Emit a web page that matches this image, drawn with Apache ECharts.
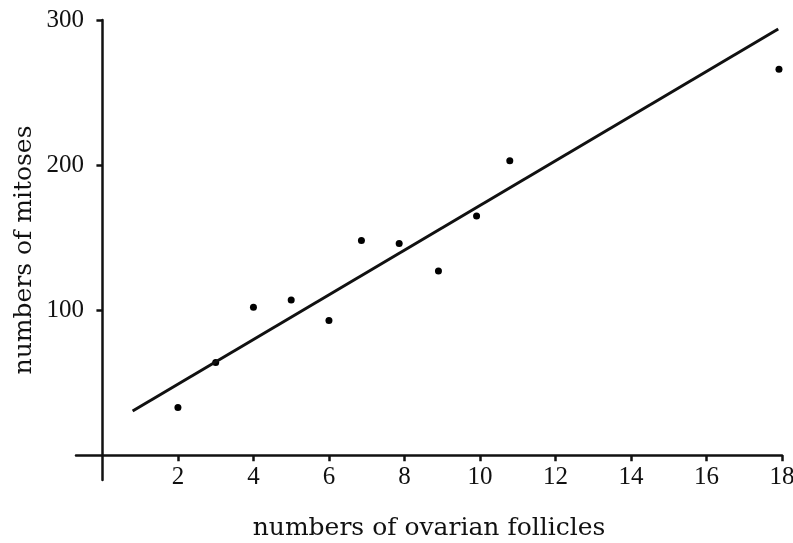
<!DOCTYPE html>
<html>
<head>
<meta charset="utf-8">
<script src="https://cdn.jsdelivr.net/npm/echarts@6/dist/echarts.min.js"></script>
<style>html,body{margin:0;padding:0;background:#fff}#c{width:793px;height:543px}</style>
</head>
<body>
<div id="c"></div>
<script>
// Observed data points (follicles, mitoses)
const follicles = [2, 3, 4, 5, 6, 6.86, 7.86, 8.9, 9.91, 10.79, 17.92];
const mitoses   = [33, 64, 102, 107, 93, 148, 146, 127, 165, 203, 266];
// Regression line end points
const lineX = [0.8, 17.9];
const lineY = [30.6, 293.8];
// Tick labels
const xTicks = [2, 4, 6, 8, 10, 12, 14, 16, 18];
const yTicks = [100, 200, 300];

const FONT = '"Liberation Serif", "DejaVu Serif", serif';
const TFONT = '"DejaVu Serif", "Liberation Serif", serif';
const chart = echarts.init(document.getElementById('c'), null, {renderer: 'canvas'});
chart.setOption({
  animation: false,
  backgroundColor: '#fff',
  grid: {left: 76, right: 11, top: 20, bottom: 63, containLabel: false, outerBoundsMode: 'none'},
  xAxis: {
    type: 'value', min: -0.7, max: 18,
    name: 'numbers of ovarian follicles',
    nameLocation: 'middle', nameGap: 36, nameMoveOverlap: false,
    nameTextStyle: {fontFamily: TFONT, fontSize: 25, color: '#111'},
    axisLine: {onZero: true, lineStyle: {color: '#111', width: 2.5}},
    axisTick: {show: true, length: 6, lineStyle: {color: '#111', width: 2.5}, customValues: xTicks},
    axisLabel: {customValues: xTicks, fontFamily: FONT, fontSize: 25, color: '#111', margin: -15},
    splitLine: {show: false}
  },
  yAxis: {
    type: 'value', min: -17, max: 300,
    name: 'numbers of mitoses',
    nameLocation: 'middle', nameGap: 39, nameRotate: 90, nameMoveOverlap: false,
    nameTextStyle: {fontFamily: TFONT, fontSize: 25, color: '#111'},
    axisLine: {onZero: true, lineStyle: {color: '#111', width: 2.5}},
    axisTick: {show: true, length: 6, lineStyle: {color: '#111', width: 2.5}, customValues: yTicks},
    axisLabel: {customValues: yTicks, fontFamily: FONT, fontSize: 25, color: '#111', margin: -8},
    splitLine: {show: false}
  },
  series: [
    {
      type: 'line',
      data: lineX.map((x, i) => [x, lineY[i]]),
      showSymbol: false,
      lineStyle: {color: '#111', width: 3},
      silent: true
    },
    {
      type: 'scatter',
      data: follicles.map((x, i) => [x, mitoses[i]]),
      symbolSize: 7,
      itemStyle: {color: '#000', opacity: 1}
    }
  ]
});
</script>
</body>
</html>
